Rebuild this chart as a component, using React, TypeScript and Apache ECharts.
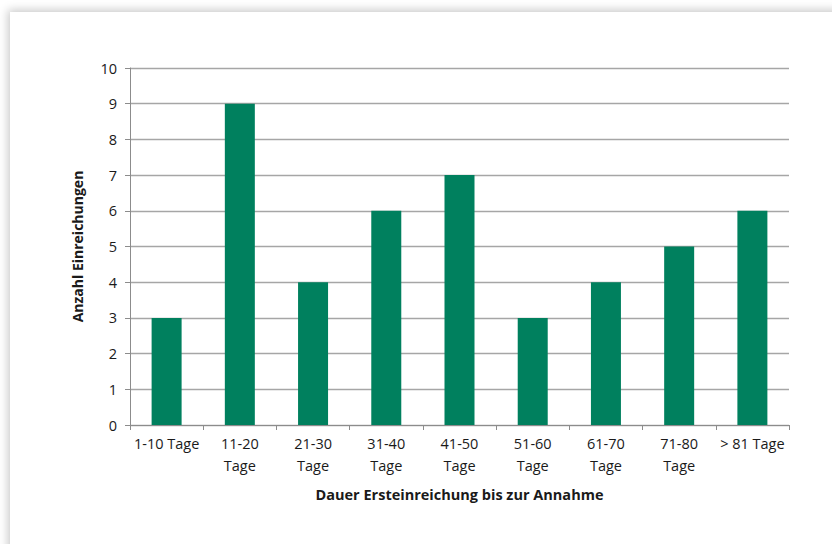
import React, { useEffect, useRef } from "react";
import * as echarts from "echarts";

const categories = [
  "1-10 Tage",
  "11-20\nTage",
  "21-30\nTage",
  "31-40\nTage",
  "41-50\nTage",
  "51-60\nTage",
  "61-70\nTage",
  "71-80\nTage",
  "> 81 Tage",
];
const values = [3, 9, 4, 6, 7, 3, 4, 5, 6];
const yAxisTitle = "Anzahl Einreichungen";
const xAxisTitle = "Dauer Ersteinreichung bis zur Annahme";

const FONT = "'Open Sans', sans-serif";

export default function App() {
  const ref = useRef<HTMLDivElement>(null);
  useEffect(() => {
    if (!ref.current) return;
    const chart = echarts.init(ref.current, null, { renderer: "svg" });
    chart.setOption({
      animation: false,
      grid: { left: 130, right: 43, top: 68, bottom: 119, containLabel: false },
      xAxis: {
        type: "category",
        data: categories,
        name: xAxisTitle,
        nameLocation: "middle",
        nameGap: 62,
        nameTextStyle: { fontFamily: FONT, fontSize: 14.5, fontWeight: "bold", color: "#1a1a1a" },
        axisLine: { lineStyle: { color: "#8c8c8c", width: 1 } },
        axisTick: { show: true, length: 5, lineStyle: { color: "#8c8c8c" } },
        axisLabel: {
          fontFamily: FONT,
          fontSize: 14.5,
          color: "#1a1a1a",
          lineHeight: 22,
          margin: 7,
          interval: 0,
        },
      },
      yAxis: {
        type: "value",
        min: 0,
        max: 10,
        interval: 1,
        name: yAxisTitle,
        nameLocation: "middle",
        nameGap: 46,
        nameTextStyle: { fontFamily: FONT, fontSize: 14, fontWeight: "bold", color: "#1a1a1a" },
        axisLine: { show: true, lineStyle: { color: "#8c8c8c", width: 1 } },
        axisTick: { show: true, length: 5, lineStyle: { color: "#8c8c8c" } },
        axisLabel: { fontFamily: FONT, fontSize: 14.5, color: "#1a1a1a", margin: 13 },
        splitLine: { show: true, lineStyle: { color: "#a6a6a6", width: 1.3 } },
      },
      series: [
        {
          type: "bar",
          data: values,
          barWidth: 30,
          itemStyle: { color: "#00805e" },
        },
      ],
    });
    return () => chart.dispose();
  }, []);
  return (
    <div style={{ position: "fixed", left: 0, top: 0, width: 832, height: 544, background: "#ffffff", overflow: "hidden" }}>
      <div
        style={{
          position: "absolute",
          left: 10,
          top: 12,
          width: 840,
          height: 560,
          background: "#fff",
          boxShadow: "0 0 9px 2px rgba(0,0,0,0.22)",
        }}
      />
      <div ref={ref} style={{ position: "absolute", left: 0, top: 0, width: 832, height: 544 }} />
    </div>
  );
}
